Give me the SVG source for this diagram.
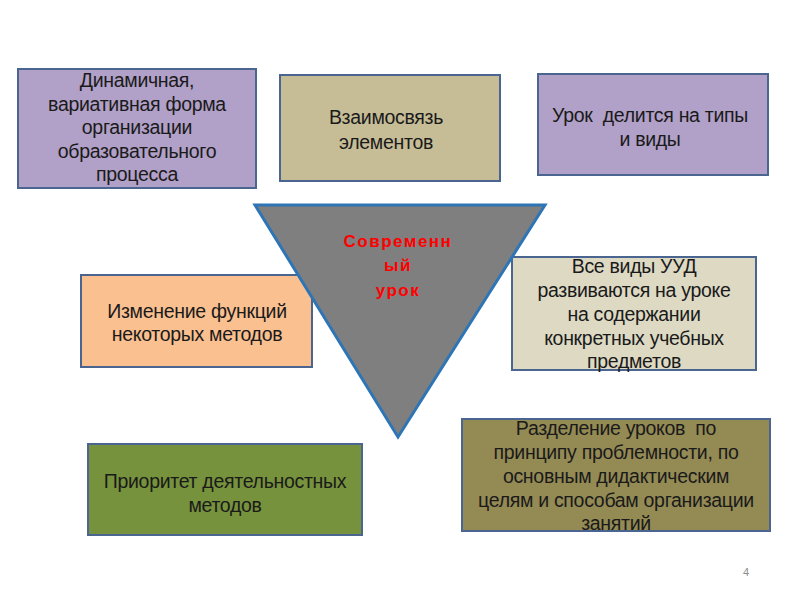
<svg xmlns="http://www.w3.org/2000/svg" width="800" height="600" viewBox="0 0 800 600">
<style>
.box{stroke:#4a6690;stroke-width:2}
.t{font-family:"Liberation Sans",Arial,sans-serif;font-size:19.5px;fill:#1a1a1a;text-anchor:middle;letter-spacing:-0.3px}
.r{font-family:"Liberation Sans",Arial,sans-serif;font-size:17px;font-weight:bold;fill:#ff0000;text-anchor:middle;letter-spacing:1.5px}
</style>
<rect width="800" height="600" fill="#ffffff"/>
<g id="n1">
<rect class="box" x="18" y="69" width="238" height="119" fill="#b1a0c7"/>
<text class="t" x="137" y="87">Динамичная,</text>
<text class="t" x="137" y="111">вариативная форма</text>
<text class="t" x="137" y="134">организации</text>
<text class="t" x="137" y="158">образовательного</text>
<text class="t" x="137" y="181">процесса</text>
</g>
<g id="n2">
<rect class="box" x="280" y="75" width="220" height="106" fill="#c6bd97"/>
<text class="t" x="386" y="124">Взаимосвязь</text>
<text class="t" x="386" y="149">элементов</text>
</g>
<g id="n3">
<rect class="box" x="538" y="74" width="230" height="101" fill="#b1a0c7"/>
<text class="t" x="650" y="122" xml:space="preserve">Урок  делится на типы</text>
<text class="t" x="650" y="146">и виды</text>
</g>
<g id="n4">
<rect class="box" x="81" y="275" width="231" height="92" fill="#fac090"/>
<text class="t" x="197" y="318">Изменение функций</text>
<text class="t" x="197" y="341">некоторых методов</text>
</g>
<g id="n5">
<rect class="box" x="512" y="257" width="244" height="113" fill="#ddd9c3"/>
<text class="t" x="634" y="273">Все виды УУД</text>
<text class="t" x="634" y="297">развиваются на уроке</text>
<text class="t" x="634" y="321">на содержании</text>
<text class="t" x="634" y="345">конкретных учебных</text>
<text class="t" x="634" y="368">предметов</text>
</g>
<g id="n6">
<rect class="box" x="88" y="444" width="274" height="91" fill="#76923c"/>
<text class="t" x="225" y="488">Приоритет деятельностных</text>
<text class="t" x="225" y="512">методов</text>
</g>
<g id="n7">
<rect class="box" x="462" y="419" width="308" height="112" fill="#948a54"/>
<text class="t" x="616" y="435" xml:space="preserve">Разделение уроков  по</text>
<text class="t" x="616" y="459">принципу проблемности, по</text>
<text class="t" x="616" y="483">основным дидактическим</text>
<text class="t" x="616" y="507">целям и способам организации</text>
<text class="t" x="616" y="530">занятий</text>
</g>
<g id="center">
<polygon points="255,205 545,205 398,437" fill="#7f7f7f" stroke="#2e75b6" stroke-width="3" stroke-linejoin="miter"/>
<text class="r" x="398" y="247">Современн</text>
<text class="r" x="398" y="271">ый</text>
<text class="r" x="398" y="296">урок</text>
</g>
<g id="connectors"></g>
<text x="746" y="576" font-family="Liberation Sans,Arial,sans-serif" font-size="11" fill="#8c8c8c" text-anchor="middle">4</text>
</svg>
